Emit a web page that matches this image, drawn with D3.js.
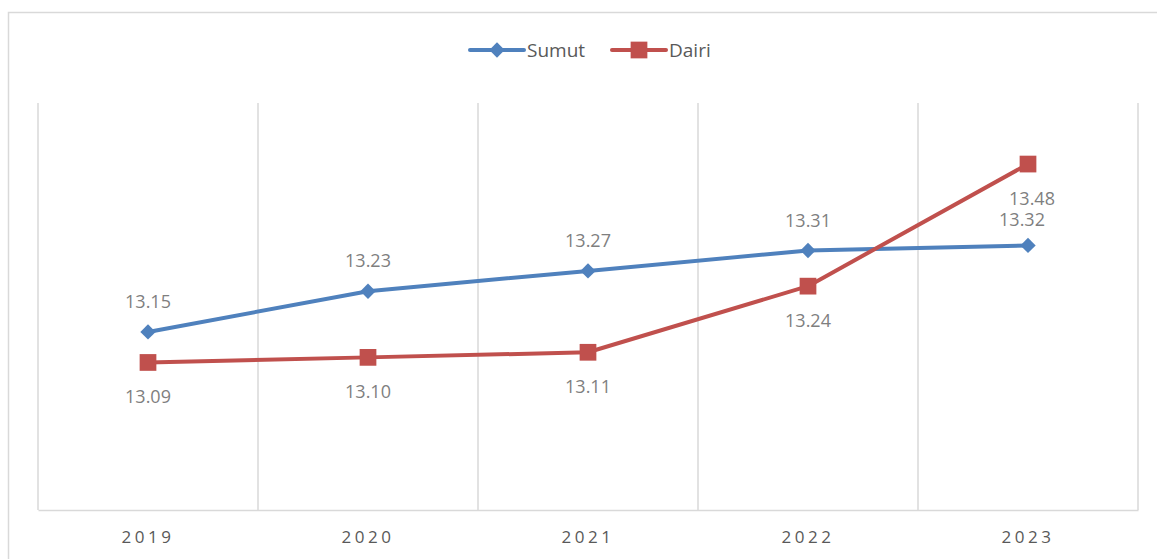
<!DOCTYPE html>
<html lang="en">
<head>
    <meta charset="UTF-8"/>
    <title>Sumut vs Dairi</title>
    <script src="https://d3js.org/d3.v7.min.js"></script>
    <style>
        body { margin: 0; background: #fff; }
        text { font-family: "Open Sans", "Noto Sans", sans-serif; }
    </style>
</head>
<body>
    <div id="chart"></div>
    <script>
        // Data
        const years = ["2019", "2020", "2021", "2022", "2023"];
        const sumut = [13.15, 13.23, 13.27, 13.31, 13.32];
        const dairi = [13.09, 13.10, 13.11, 13.24, 13.48];
        const seriesNames = ["Sumut", "Dairi"];

        const w = 1157, h = 559;
        const margin = { top: 103, right: 19, bottom: 49, left: 38 };

        const svg = d3.select("#chart").append("svg")
            .attr("width", w)
            .attr("height", h);

        // Outer chart border
        svg.append("rect")
            .attr("x", 8.5).attr("y", 12.5)
            .attr("width", w).attr("height", h)
            .attr("fill", "none")
            .attr("stroke", "#d9d9d9")
            .attr("stroke-width", 1.5);

        const x = d3.scaleBand()
            .domain(years)
            .range([margin.left, w - margin.right]);

        const y = d3.scaleLinear()
            .domain([12.8, 13.6])
            .range([h - margin.bottom, margin.top]);

        // Vertical gridlines on category boundaries
        const bounds = years.map(d => x(d)).concat([x(years[years.length - 1]) + x.bandwidth()]);
        svg.selectAll(".grid")
            .data(bounds)
            .enter()
            .append("line")
            .attr("x1", d => d).attr("x2", d => d)
            .attr("y1", margin.top).attr("y2", h - margin.bottom)
            .attr("stroke", "#d9d9d9")
            .attr("stroke-width", 1.5);

        // Bottom axis
        const xAxis = svg.append("g")
            .attr("transform", `translate(0, ${h - margin.bottom})`)
            .call(d3.axisBottom(x).tickSize(0).tickPadding(21));
        xAxis.select(".domain").attr("stroke", "#d9d9d9").attr("stroke-width", 1.5);
        xAxis.selectAll("text")
            .attr("font-size", "17px")
            .attr("fill", "#595959")
            .attr("letter-spacing", "3.5px")
            .style("font-family", "\"Open Sans\", sans-serif");

        const series = [
            { name: seriesNames[0], values: sumut, color: "#4f81bd", marker: "diamond", above: true },
            { name: seriesNames[1], values: dairi, color: "#c0504d", marker: "square", above: false }
        ];

        const cx = d => x(d) + x.bandwidth() / 2;
        const line = d3.line()
            .x((v, i) => cx(years[i]))
            .y(v => y(v));

        const diamond = d3.symbol().type(d3.symbolDiamond2).size(150);
        const square = d3.symbol().type(d3.symbolSquare).size(280);

        series.forEach(s => {
            svg.append("path")
                .datum(s.values)
                .attr("d", line)
                .attr("fill", "none")
                .attr("stroke", s.color)
                .attr("stroke-width", 4)
                .attr("stroke-linejoin", "round");

            svg.selectAll(".m-" + s.name)
                .data(s.values)
                .enter()
                .append("path")
                .attr("transform", (v, i) => `translate(${cx(years[i])}, ${y(v)})`)
                .attr("d", s.marker === "diamond" ? diamond : square)
                .attr("fill", s.color);

            svg.selectAll(".l-" + s.name)
                .data(s.values)
                .enter()
                .append("text")
                .attr("x", (v, i) => cx(years[i]) + (i === 4 ? (s.above ? -6 : 4) : 0))
                .attr("y", (v, i) => s.above ? y(v) - (i === 4 ? 19 : 24) : y(v) + 41)
                .attr("text-anchor", "middle")
                .attr("font-size", "18px")
                .attr("fill", "#7f7f7f")
                .text(v => v.toFixed(2));
        });

        // Legend
        const legend = svg.append("g");
        const legendItems = [
            { name: "Sumut", color: "#4f81bd", x: 470, sym: diamond },
            { name: "Dairi", color: "#c0504d", x: 612, sym: square }
        ];
        legendItems.forEach(it => {
            legend.append("line")
                .attr("x1", it.x).attr("x2", it.x + 54)
                .attr("y1", 50).attr("y2", 50)
                .attr("stroke", it.color)
                .attr("stroke-width", 4)
                .attr("stroke-linecap", "round");
            legend.append("path")
                .attr("transform", `translate(${it.x + 27}, 50)`)
                .attr("d", it.sym)
                .attr("fill", it.color);
            legend.append("text")
                .attr("x", it.x + 57)
                .attr("y", 57)
                .attr("font-size", "19px")
                .attr("fill", "#595959")
                .text(it.name);
        });
    </script>
</body>
</html>
